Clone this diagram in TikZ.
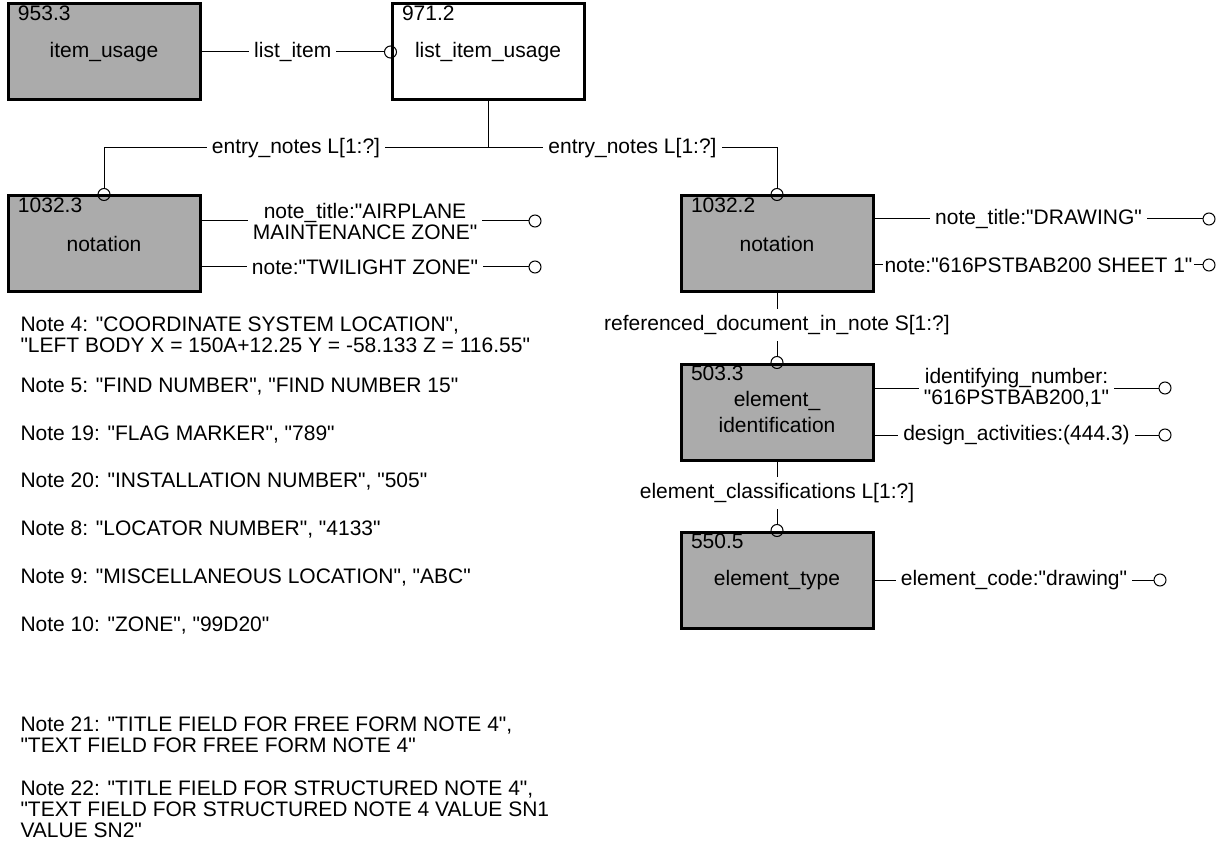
\documentclass[tikz,border=0pt]{standalone}
\usepackage{fontspec}
\newfontfamily\figfont{Liberation Sans}
\usetikzlibrary{positioning}
\definecolor{figink}{HTML}{000000}
\definecolor{entfill}{HTML}{ABABAB}

\begin{document}
\begin{tikzpicture}[
  x=0.5pt, y=-0.5pt,
  line width=0.5pt, line join=miter,
  font=\figfont\fontsize{10.5}{10.5}\selectfont,
  ent/.style  = {draw=figink, line width=1.5pt, fill=entfill,
                 minimum width=96pt, minimum height=48pt, inner sep=0pt,
                 align=center},
  entw/.style = {ent, fill=white},
  eid/.style  = {anchor=north west, inner sep=0pt},
  ring/.style = {draw=figink, line width=0.5pt, circle,
                 minimum size=6pt, inner sep=0pt},
  lbl/.style  = {fill=white, inner xsep=2.5pt, inner ysep=1pt, align=center},
  vlbl/.style = {fill=white, inner xsep=2pt, inner ysep=3pt},
  note/.style = {anchor=west, inner sep=0pt, align=left}
]
\useasboundingbox (0,0) rectangle (1226,845);

% entities
\node[ent]  (iu)  at (104,52)  {item\_usage};
\node[entw] (liu) at (488,52)  {list\_item\_usage};
\node[ent]  (nl)  at (104,244) {notation};
\node[ent]  (nr)  at (777,244) {notation};
\node[ent]  (ei)  at (777,412) {element\_\\[2.5pt]identification};
\node[ent]  (et)  at (777,580) {element\_type};

% entity numbers
\node[eid] (iuid)  at ([shift={(5.5pt,-1.5pt)}]iu.north west)  {953.3};
\node[eid] (liuid) at ([shift={(5.5pt,-1.5pt)}]liu.north west) {971.2};
\node[eid] (nlid)  at ([shift={(5.5pt,-1.5pt)}]nl.north west)  {1032.3};
\node[eid] (nrid)  at ([shift={(5.5pt,-1.5pt)}]nr.north west)  {1032.2};
\node[eid] (eiid)  at ([shift={(5.5pt,-1.5pt)}]ei.north west)  {503.3};
\node[eid] (etid)  at ([shift={(5.5pt,-1.5pt)}]et.north west)  {550.5};

% relationship ends
\node[ring] (liuin) at (liu.west) {};
\node[ring] (nlin)  at (nl.north) {};
\node[ring] (nrin)  at (nr.north) {};
\node[ring] (eiin)  at (ei.north) {};
\node[ring] (etin)  at (et.north) {};

% attribute ends
\node[ring] (nla1) at (535,221)  {};
\node[ring] (nla2) at (535,267)  {};
\node[ring] (nra1) at (1209,219) {};
\node[ring] (nra2) at (1209,265) {};
\node[ring] (eia1) at (1165,388) {};
\node[ring] (eia2) at (1165,435) {};
\node[ring] (eta1) at (1160,580) {};

% relationships
\draw (iu.east) -- node[lbl] {list\_item} (liuin.west);
\coordinate (fork) at (488,148);
\draw (liu.south) -- (fork);
\draw (fork) -| node[lbl, pos=0.25] {entry\_notes L[1:?]} (nlin.north);
\draw (fork) -| node[lbl, pos=0.25] {entry\_notes L[1:?]} (nrin.north);
\draw (nr.south) -- node[vlbl] {referenced\_document\_in\_note S[1:?]} (eiin.north);
\draw (ei.south) -- node[vlbl] {element\_classifications L[1:?]} (etin.north);

% attributes
\draw (nl.east |- nla1) -- node[lbl] {note\_title:"AIRPLANE\\MAINTENANCE ZONE"} (nla1.west);
\draw (nl.east |- nla2) -- node[lbl] {note:"TWILIGHT ZONE"} (nla2.west);
\draw (nr.east |- nra1) -- node[lbl] {note\_title:"DRAWING"} (nra1.west);
\draw (nr.east |- nra2) -- node[lbl, inner xsep=1pt] {note:"616PSTBAB200 SHEET 1"} (nra2.west);
\draw (ei.east |- eia1) -- node[lbl] {identifying\_number:\\"616PSTBAB200,1"} (eia1.west);
\draw (ei.east |- eia2) -- node[lbl] {design\_activities:(444.3)} (eia2.west);
\draw (et.east |- eta1) -- node[lbl] {element\_code:"drawing"} (eta1.west);

% notes
\node[note] (n4)  at (20,335) {Note 4: "COORDINATE SYSTEM LOCATION",\\"LEFT BODY X = 150A+12.25 Y = -58.133 Z = 116.55"};
\node[note] (n5)  at (20,387) {Note 5: "FIND NUMBER", "FIND NUMBER 15"};
\node[note] (n19) at (20,435) {Note 19: "FLAG MARKER", "789"};
\node[note] (n20) at (20,482) {Note 20: "INSTALLATION NUMBER", "505"};
\node[note] (n8)  at (20,530) {Note 8: "LOCATOR NUMBER", "4133"};
\node[note] (n9)  at (20,578) {Note 9: "MISCELLANEOUS LOCATION", "ABC"};
\node[note] (n10) at (20,626) {Note 10: "ZONE", "99D20"};
\node[note] (n21) at (20,735) {Note 21: "TITLE FIELD FOR FREE FORM NOTE 4",\\"TEXT FIELD FOR FREE FORM NOTE 4"};
\node[note] (n22) at (20,809) {Note 22: "TITLE FIELD FOR STRUCTURED NOTE 4",\\"TEXT FIELD FOR STRUCTURED NOTE 4 VALUE SN1\\VALUE SN2"};

\end{tikzpicture}
\end{document}
